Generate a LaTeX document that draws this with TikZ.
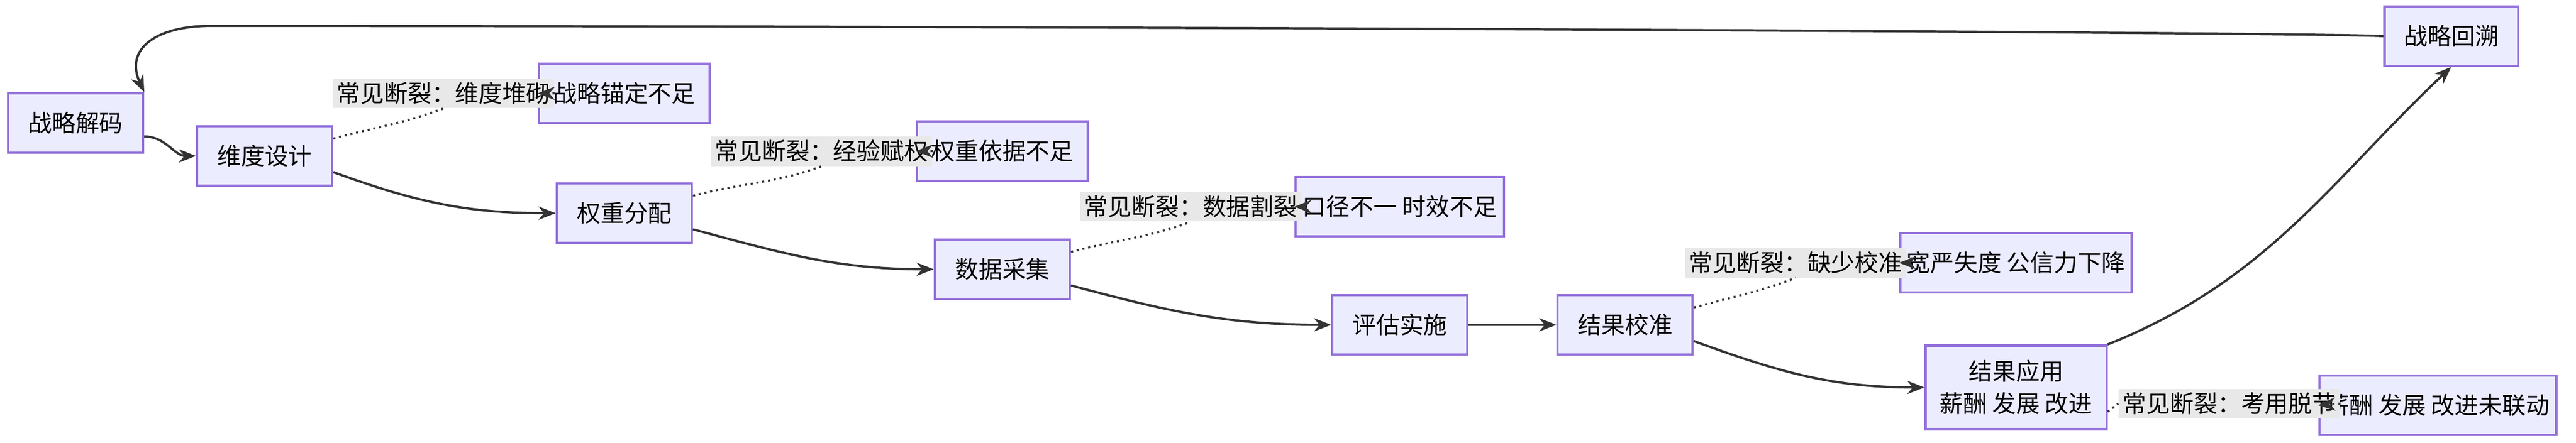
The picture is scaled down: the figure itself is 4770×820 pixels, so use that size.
\documentclass[tikz,border=0pt]{standalone}
\usepackage{fontspec}
\setmainfont{Noto Sans CJK SC}
\usetikzlibrary{arrows.meta}
\definecolor{boxfill}{HTML}{ECECFF}
\definecolor{boxline}{HTML}{9370DB}
\definecolor{edgeline}{HTML}{333333}
\tikzset{
  box/.style={draw=boxline, fill=boxfill, line width=1.2pt, minimum height=1.1cm, align=center, font=\fontsize{12.5}{17}\selectfont},
  lbl/.style={fill=gray!18, inner sep=2pt, font=\fontsize{12.5}{15}\selectfont},
  flow/.style={draw=edgeline, line width=1.2pt, -{Stealth[length=9pt,width=7pt]}},
  gap/.style={draw=edgeline, line width=1.1pt, dotted, -{Stealth[length=9pt,width=7pt]}}
}
\begin{document}
\begin{tikzpicture}[x=0.01cm, y=-0.01cm]
  \useasboundingbox (0,0) rectangle (4770,820);
  % Hauptpfad
  \node[box, minimum width=2.5cm] (jiema) at (140,228) {战略解码};
  \node[box, minimum width=2.5cm] (weidu) at (490,289) {维度设计};
  \node[box, minimum width=2.5cm] (quanzhong) at (1156,395) {权重分配};
  \node[box, minimum width=2.5cm] (caiji) at (1856,499) {数据采集};
  \node[box, minimum width=2.5cm] (shishi) at (2592,602) {评估实施};
  \node[box, minimum width=2.5cm] (jiaozhun) at (3009,602) {结果校准};
  \node[box, minimum width=3.35cm, minimum height=1.55cm] (yingyong) at (3733,718) {结果应用\\薪酬 发展 改进};
  \node[box, minimum width=2.47cm] (huisu) at (4539,67) {战略回溯};
  %断裂
  \node[box, minimum width=3.16cm] (maoding) at (1156,173) {战略锚定不足};
  \node[box, minimum width=3.16cm] (yiju) at (1856,280) {权重依据不足};
  \node[box, minimum width=3.86cm] (koujing) at (2592,383) {口径不一 时效不足};
  \node[box, minimum width=4.2cm] (kuanyan) at (3733,487) {宽严失度 公信力下降};
  \node[box, minimum width=3.77cm] (liandong) at (4514,751) {薪酬 发展 改进未联动};
  % Labels
  \node[lbl] (l1) at (821,173) {常见断裂：维度堆砌};
  \node[lbl] (l2) at (1521,280) {常见断裂：经验赋权};
  \node[lbl] (l3) at (2205,383) {常见断裂：数据割裂};
  \node[lbl] (l4) at (3325,487) {常见断裂：缺少校准};
  \node[lbl] (l5) at (4128,748) {常见断裂：考用脱节};
  % Pfeile
  \draw[flow] (jiema.east) ++(0,25) to[out=0,in=180] (weidu.west);
  \draw[flow] (weidu.east) ++(0,30) to[out=-20,in=180] (quanzhong.west);
  \draw[flow] (quanzhong.east) ++(0,30) to[out=-15,in=180] (caiji.west);
  \draw[flow] (caiji.east) ++(0,30) to[out=-15,in=180] (shishi.west);
  \draw[flow] (shishi.east) -- (jiaozhun.west);
  \draw[flow] (jiaozhun.east) ++(0,30) to[out=-20,in=180] (yingyong.west);
  \draw[flow] (yingyong.north east) .. controls (4200,520) and (4320,330) .. (huisu.south);
  \coordinate (back) at (390,48);
  \draw[draw=edgeline, line width=1.2pt] (huisu.west) .. controls (4300,60) and (2000,48) .. (back);
  \draw[flow] (back) .. controls (290,48) and (230,90) .. (jiema.north east);
  % Gestrichelt
  \draw[gap, -] (weidu.north east) ++(0,25) to[out=15,in=200] (l1.south);
  \draw[gap] (l1.east) -- (maoding.west);
  \draw[gap, -] (quanzhong.north east) ++(0,25) to[out=15,in=200] (l2.south);
  \draw[gap] (l2.east) -- (yiju.west);
  \draw[gap, -] (caiji.north east) ++(0,25) to[out=15,in=200] (l3.south);
  \draw[gap] (l3.east) -- (koujing.west);
  \draw[gap, -] (jiaozhun.north east) ++(0,25) to[out=15,in=200] (l4.south);
  \draw[gap] (l4.east) -- (kuanyan.west);
  \draw[gap, -] (yingyong.east) ++(0,45) -- (l5.west);
  \draw[gap] (l5.east) -- (liandong.west);
\end{tikzpicture}
\end{document}
